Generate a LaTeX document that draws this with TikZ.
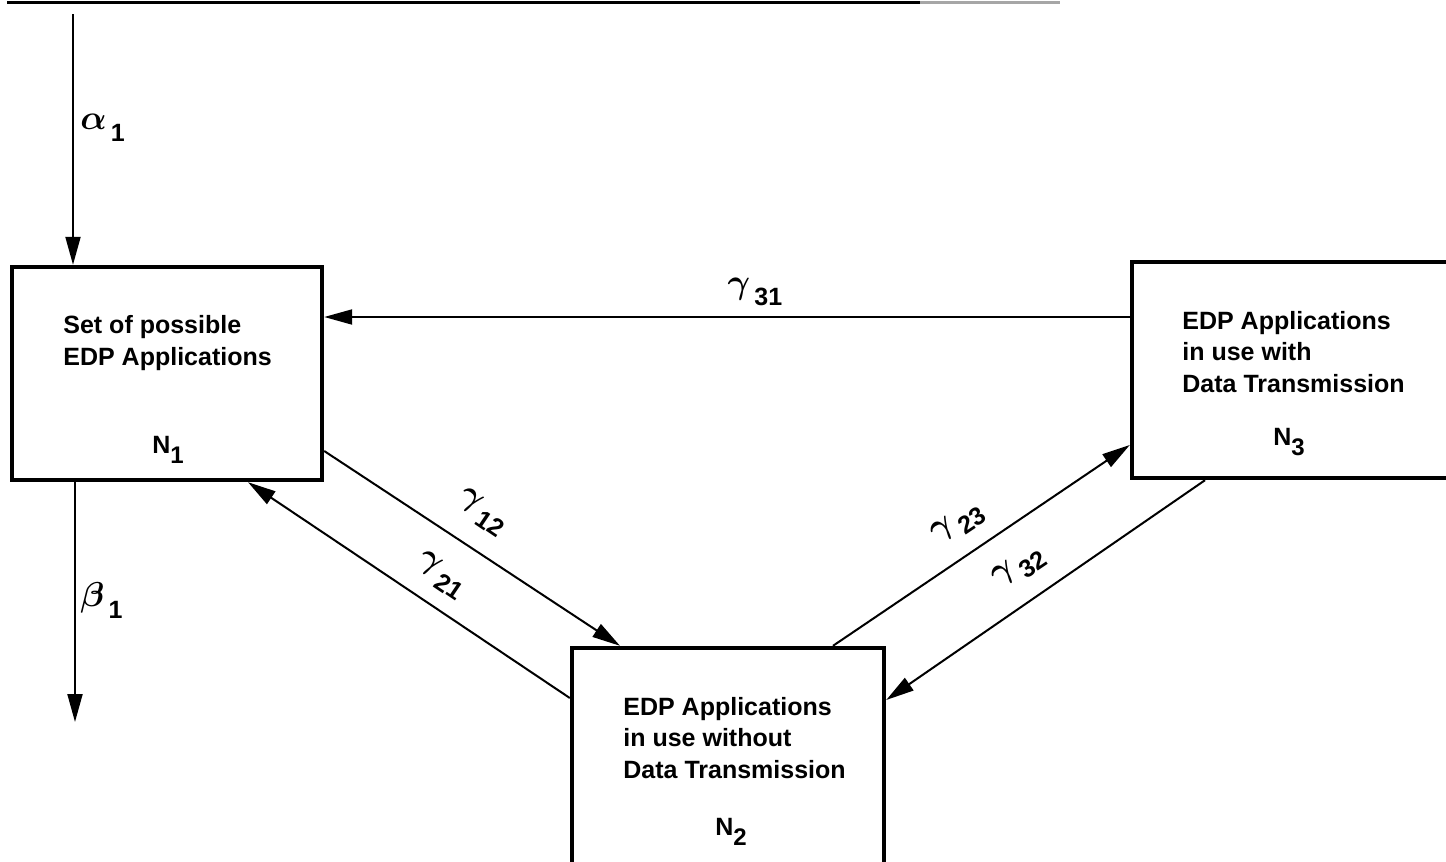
\documentclass[tikz,border=0pt]{standalone}
\usepackage{fontspec}
\setmainfont{Liberation Sans}
\usetikzlibrary{arrows.meta}

\newcommand{\nlabel}[1]{N\raisebox{-5pt}{\fontsize{12}{12}\selectfont #1}}
\newcommand{\flowlabel}[2]{{\fontsize{19}{19}\selectfont\boldmath$#1$}\,\raisebox{-6pt}{#2}}

\begin{document}
\begin{tikzpicture}[
x=0.5pt,y=-0.5pt,
box/.style={draw,line width=2.2pt,inner sep=0pt},
boxtext/.style={anchor=base west,align=left,inner sep=0pt,font=\bfseries\fontsize{12.5}{15.75}\selectfont},
flow/.style={line width=1pt,-{Triangle[length=14pt,width=7.5pt]}},
rate/.style={inner sep=0pt,font=\bfseries\fontsize{12.5}{12.5}\selectfont}
]
\useasboundingbox (0,0) rectangle (1446,862);

% rule at the top of the page
\draw[line width=1.5pt] (7,2) -- (920,2);
\draw[line width=1.5pt,black!35] (920,2) -- (1060,2);

% the three states
\node[box,minimum width=155pt,minimum height=106.5pt] (n1) at (167,373.5) {};
\node[box,minimum width=156pt,minimum height=126pt] (n2) at (728,774) {};
\node[box,minimum width=174pt,minimum height=108pt] (n3) at (1306,370) {};

% texts sit on the baseline of their last line
\node[boxtext] (n1txt) at (63,365) {Set of possible\\EDP Applications};
\node[boxtext] (n1lab) at (152,453) {\nlabel{1}};
\node[boxtext] (n2txt) at (623,778) {EDP Applications\\in use without\\Data Transmission};
\node[boxtext] (n2lab) at (715,835) {\nlabel{2}};
\node[boxtext] (n3txt) at (1182,392) {EDP Applications\\in use with\\Data Transmission};
\node[boxtext] (n3lab) at (1273,445) {\nlabel{3}};

% inflow and outflow
\coordinate (ain) at (73,14);
\coordinate (bout) at (75,722);
\draw[flow] (ain) -- ([xshift=-47pt]n1.north);
\draw[flow] ([xshift=-46pt]n1.south) -- (bout);
\node[rate,anchor=west] (ralpha) at (80,128) {\flowlabel{\alpha}{1}};
\node[rate,anchor=west] (rbeta) at (80,600) {\flowlabel{\beta}{1}};

% transitions
\coordinate (m31) at ([yshift=26.5pt]n3.west);
\draw[flow] (m31) -- (m31 -| n1.east);
\draw[flow] ([yshift=-38.75pt]n1.east) -- ([xshift=-54pt]n2.north);
\draw[flow] ([yshift=38pt]n2.west) -- ([xshift=40.5pt]n1.south);
\draw[flow] ([xshift=52.5pt]n2.north) -- ([yshift=-37.5pt]n3.west);
\draw[flow] ([xshift=-50.5pt]n3.south) -- ([yshift=37pt]n2.east);

\node[rate] (r31) at (755,292) {\flowlabel{\gamma}{31}};
\node[rate,rotate=-34] (r12) at (482,512) {\flowlabel{\gamma}{12}};
\node[rate,rotate=-34] (r21) at (441,575) {\flowlabel{\gamma}{21}};
\node[rate,rotate=34] (r23) at (958,524) {\flowlabel{\gamma}{23}};
\node[rate,rotate=34] (r32) at (1019,568) {\flowlabel{\gamma}{32}};

\end{tikzpicture}
\end{document}
